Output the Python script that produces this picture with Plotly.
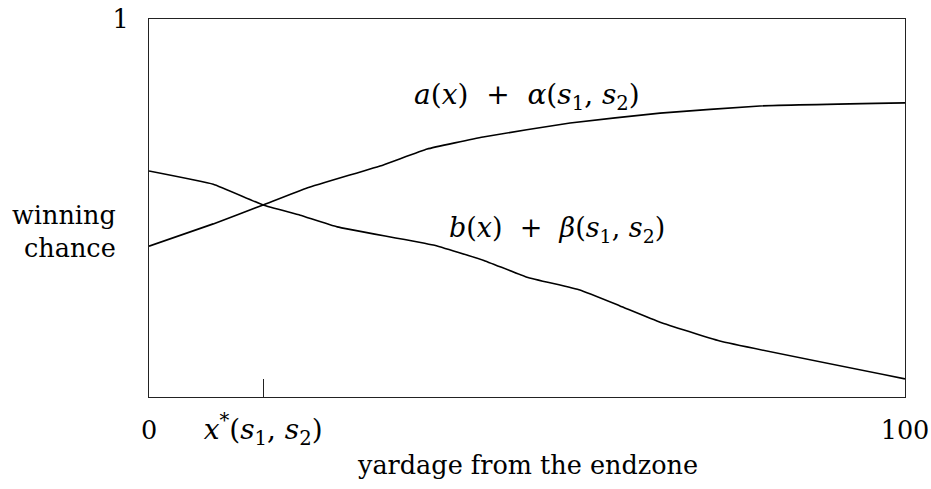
import plotly.graph_objects as go

# yardage from the endzone (0..100) and winning chance (0..1)
yard_a = [0, 8.5, 15.1, 20.9, 31.0, 36.8, 44.2, 55.7, 67.6, 80.8, 100]
chance_a = [0.399, 0.458, 0.508, 0.553, 0.614, 0.656, 0.688, 0.725, 0.751, 0.770, 0.778]

yard_b = [0, 8.5, 15.1, 20.0, 24.9, 37.6, 44.2, 50.0, 57.0, 62.3, 67.6, 75.5, 100]
chance_b = [0.598, 0.563, 0.508, 0.481, 0.450, 0.402, 0.362, 0.317, 0.283, 0.241, 0.198, 0.148, 0.048]

x_star = 15.1
x_ticks = [0, x_star, 100]
x_ticktext = ['0',
              '<span style="font-size:28px"><i>x</i><sup>*</sup>(<i>s</i><sub>1</sub>, <i>s</i><sub>2</sub>)</span>',
              '100']

font_family = 'DejaVu Serif'
line_color = '#000'
sp = '&nbsp;'

fig = go.Figure()
fig.add_trace(go.Scatter(x=yard_a, y=chance_a, mode='lines',
                         line=dict(color=line_color, width=1.6, shape='spline', smoothing=0.3)))
fig.add_trace(go.Scatter(x=yard_b, y=chance_b, mode='lines',
                         line=dict(color=line_color, width=1.6, shape='spline', smoothing=0.3)))

fig.add_annotation(x=50, y=0.794, xref='x', yref='y', showarrow=False, font=dict(size=28),
                   text='<i>a</i>(<i>x</i>)' + sp * 2 + '+' + sp * 2 +
                        '<i>α</i>(<i>s</i><sub>1</sub>, <i>s</i><sub>2</sub>)')
fig.add_annotation(x=54, y=0.442, xref='x', yref='y', showarrow=False, font=dict(size=27),
                   text='<i>b</i>(<i>x</i>)' + sp * 2 + '+' + sp * 2 +
                        '<i>β</i>(<i>s</i><sub>1</sub>, <i>s</i><sub>2</sub>)')
fig.add_annotation(x=-0.041, y=0.437, xref='paper', yref='paper', showarrow=False,
                   xanchor='right', align='right', text='winning<br>chance')
fig.add_annotation(x=0.5, y=-0.18, xref='paper', yref='paper', showarrow=False,
                   yanchor='middle', text='yardage from the endzone')

fig.update_layout(
    width=931, height=489,
    showlegend=False,
    paper_bgcolor='white',
    plot_bgcolor='white',
    font=dict(family=font_family, size=25.5, color='#000'),
    margin=dict(l=149, r=26, t=19, b=92, autoexpand=False),
    xaxis=dict(range=[0, 100], tickvals=x_ticks, ticktext=x_ticktext,
               ticks='inside', ticklen=18, tickwidth=1, tickcolor='#222',
               showgrid=False, zeroline=False, showline=True, linecolor='#222',
               linewidth=1.2, mirror=True, ticklabelstandoff=10, automargin=False),
    yaxis=dict(range=[0, 1], tickvals=[1], ticktext=['1'], ticks='',
               showgrid=False, zeroline=False, showline=True, linecolor='#222',
               linewidth=1.2, mirror=True, ticklabelstandoff=14, automargin=False))

# drop the page margin so the figure sits at the window's corner
fig.write_html('out.html', config={'displayModeBar': False},
               post_script="document.body.style.margin='0';")
